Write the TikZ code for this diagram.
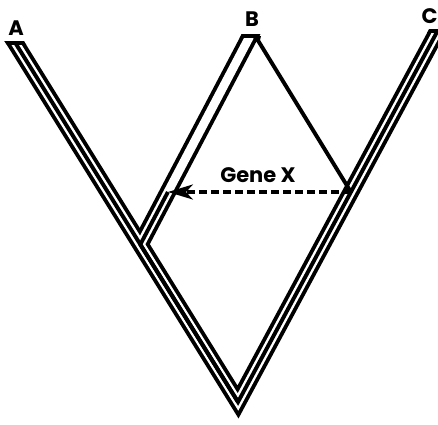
\documentclass[tikz,border=0pt]{standalone}
\usepackage{fontspec}
\newfontfamily\labfont{Poppins}
\usetikzlibrary{arrows.meta}
\tikzset{
  tubeblack/.style={line width=16.5pt,black,line join=miter,miter limit=10},
  tubewhite/.style={line width=8.7pt,white,line join=miter,miter limit=10},
  geneline/.style={line width=3.9pt,black,line join=miter,miter limit=10},
  lab/.style={inner sep=0pt,font=\labfont\bfseries\fontsize{21}{24}\selectfont},
  cover/.style={fill=white,draw=none},
}
\begin{document}
\begin{tikzpicture}[x=1pt,y=-1pt]
\useasboundingbox[fill=white] (0,0) rectangle (438,424);
% key points
\coordinate (Aext) at (1.12,20);
\coordinate (R) at (238,402);
\coordinate (Cext) at (448.8,10);
\coordinate (Bext) at (258.4,20);
\coordinate (J) at (140.3,244.5);
\coordinate (Tip) at (167.9,192);
\coordinate (Xc) at (350.9,192);
\coordinate (Bg) at (256.5,38);
% tubes
\draw[tubeblack] (Aext) -- (R) -- (Cext);
\draw[tubeblack] (Bext) -- (J);
\draw[tubewhite] (Aext) -- (R) -- (Cext);
\draw[tubewhite] (Bext) -- (J);
% gene lines inside tubes
\draw[geneline] (Aext) -- (R) -- (Cext);
\draw[geneline] (Tip) -- (J) -- (R);
% remove tube parts above the tips
\fill[cover] (-20,-20) rectangle (60,41.1);
\fill[cover] (225,-20) rectangle (280,34.1);
\fill[cover] (395,-20) rectangle (470,29.1);
% caps
\begin{scope}
\clip (-20,41.1) rectangle (60,44.9);
\draw[tubeblack] (Aext) -- (R);
\end{scope}
\begin{scope}
\clip (225,34.1) rectangle (280,37.9);
\draw[tubeblack] (Bext) -- (J);
\end{scope}
\begin{scope}
\clip (395,29.1) rectangle (470,32.9);
\draw[tubeblack] (R) -- (Cext);
\end{scope}
% gene lineage of B to C
\draw[geneline] (Bg) -- (Xc);
\fill (251.5,36) -- (261,36) -- (259,44.5) -- cycle;
% transfer arrow
\draw[line width=3.2pt,dash pattern=on 8pt off 4pt,-{Stealth[length=25pt,width=15pt,inset=7pt]}] (Xc) -- (Tip);
% labels
\node[lab] (labA) at (16,28.5) {A};
\node[lab] (labB) at (252,19.5) {B};
\node[lab] (labC) at (429.5,16.5) {C};
\node[lab] (labG) at (258,175) {Gene X};
\end{tikzpicture}
\end{document}
